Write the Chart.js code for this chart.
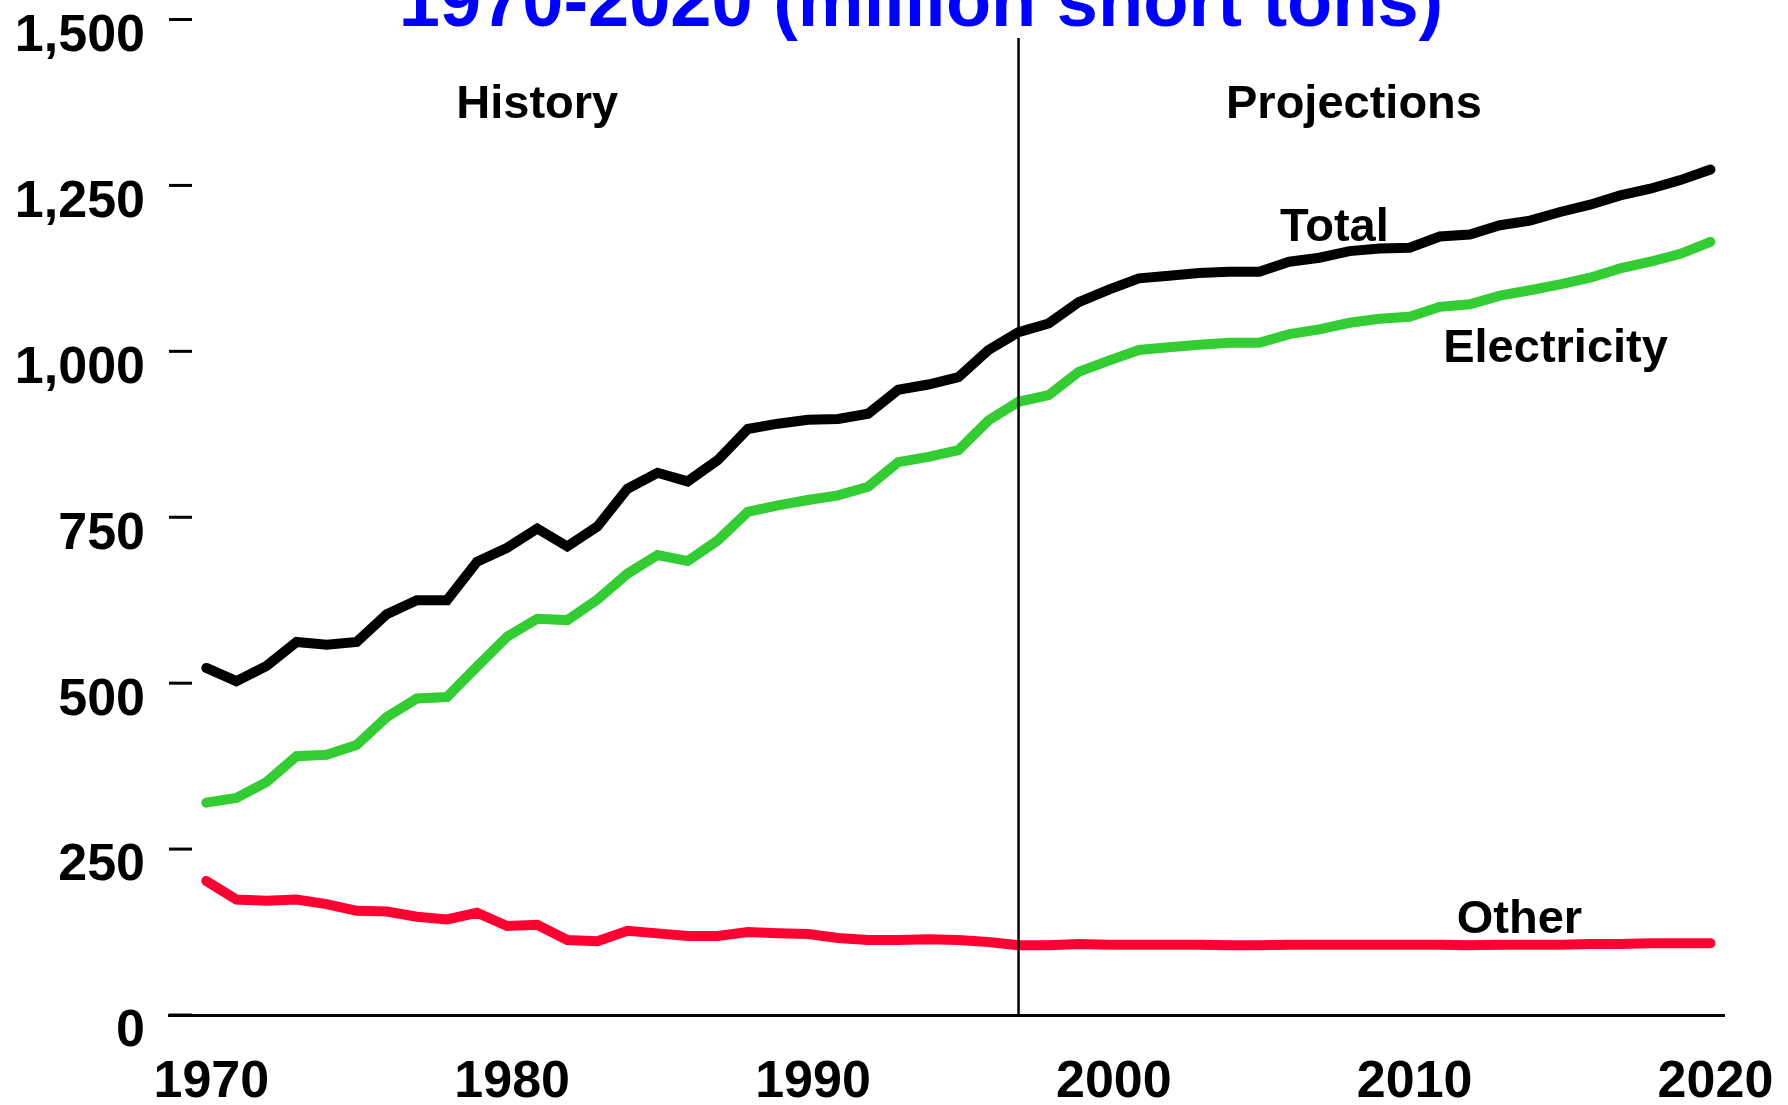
<!DOCTYPE html>
<html>
<head>
<meta charset="utf-8">
<script src="https://cdn.jsdelivr.net/npm/chart.js@4/dist/chart.umd.min.js"></script>
<style>
  html, body { margin: 0; padding: 0; background: #ffffff; }
  #wrap { width: 1788px; height: 1105px; position: relative; }
</style>
</head>
<body>
<div id="wrap"><canvas id="c" width="1788" height="1105"></canvas></div>
<script>
// ---------- DATA ----------
const years = [1970,1971,1972,1973,1974,1975,1976,1977,1978,1979,
               1980,1981,1982,1983,1984,1985,1986,1987,1988,1989,
               1990,1991,1992,1993,1994,1995,1996,1997,1998,1999,
               2000,2001,2002,2003,2004,2005,2006,2007,2008,2009,
               2010,2011,2012,2013,2014,2015,2016,2017,2018,2019,2020];
const totalValues = [523,503,526,562,558,562,604,625,625,683,
                     704,733,706,736,793,817,804,836,883,891,
                     897,898,906,942,950,961,1002,1029,1042,1074,
                     1093,1110,1114,1118,1120,1120,1135,1141,1151,1155,
                     1156,1173,1176,1190,1197,1210,1221,1235,1245,1258,1274];
const electricityValues = [320,327,351,390,392,407,449,477,479,525,
                           570,597,595,626,665,693,684,715,758,768,
                           776,783,796,833,841,851,896,924,934,969,
                           986,1002,1006,1010,1013,1013,1026,1033,1043,1049,
                           1052,1067,1071,1084,1092,1101,1111,1125,1135,1147,1165];
const otherValues = [202,174,172,174,167,157,156,148,144,154,
                     134,136,113,111,127,123,119,119,125,123,
                     122,116,113,113,114,113,110,105,105,107,
                     106,106,106,106,105,105,106,106,106,106,
                     106,106,105,106,106,106,107,107,108,108,108];
const seriesNames = ['Total', 'Electricity', 'Other'];
const xTickYears = [1970, 1980, 1990, 2000, 2010, 2020];
const yTickValues = [0, 250, 500, 750, 1000, 1250, 1500];
const periodLabels = ['History', 'Projections'];
const projectionStartYear = 1997;
const titleText = '1970-2020 (million short tons)';

// ---------- STYLE / LAYOUT ----------
const FONT = '"Liberation Sans", Arial, sans-serif';
const seriesColors = ['#000000', '#33CC33', '#FF0033'];
const lineWidth = 10;
const xRange = { min: 1968.76, max: 2020.45 };
const yRange = { min: 0, max: 1500 };
// annotation anchors in data units (x = year, y = value at text baseline)
const annotationSpots = [
  { text: periodLabels[0], x: 1981.0, y: 1352 },
  { text: periodLabels[1], x: 2008.15, y: 1352 },
  { text: seriesNames[0], x: 2007.5, y: 1167 },
  { text: seriesNames[1], x: 2014.85, y: 984 },
  { text: seriesNames[2], x: 2013.65, y: 124 }
];
const dividerTopValue = 1472;

function pairs(vals) { return years.map((yr, i) => ({ x: yr, y: vals[i] })); }

const overlayPlugin = {
  id: 'overlay',
  beforeDatasetsDraw(chart) {
    const ctx = chart.ctx, ys = chart.scales.y, area = chart.chartArea;
    ctx.save();
    ctx.strokeStyle = '#000';
    ctx.lineWidth = 3;
    ys.ticks.forEach(t => {
      const py = ys.getPixelForValue(t.value);
      ctx.beginPath();
      ctx.moveTo(area.left, py);
      ctx.lineTo(area.left + 23, py);
      ctx.stroke();
    });
    ctx.restore();
  },
  afterDatasetsDraw(chart) {
    const ctx = chart.ctx, xs = chart.scales.x, ys = chart.scales.y;
    ctx.save();
    // divider between history and projections
    const px = xs.getPixelForValue(projectionStartYear);
    ctx.strokeStyle = '#000';
    ctx.lineWidth = 2.5;
    ctx.beginPath();
    ctx.moveTo(px, ys.getPixelForValue(dividerTopValue));
    ctx.lineTo(px, ys.getPixelForValue(0));
    ctx.stroke();
    // annotations
    ctx.fillStyle = '#000';
    ctx.font = 'bold 47px ' + FONT;
    ctx.textAlign = 'center';
    ctx.textBaseline = 'alphabetic';
    annotationSpots.forEach(a => {
      ctx.fillText(a.text, xs.getPixelForValue(a.x), ys.getPixelForValue(a.y));
    });
    // title (second line, partly cut off at top)
    ctx.fillStyle = '#0000FF';
    ctx.font = 'bold 74px ' + FONT;
    ctx.fillText(titleText, 921, 26);
    ctx.restore();
  }
};

new Chart(document.getElementById('c'), {
  type: 'line',
  data: {
    datasets: [
      { label: seriesNames[0], data: pairs(totalValues), borderColor: seriesColors[0] },
      { label: seriesNames[1], data: pairs(electricityValues), borderColor: seriesColors[1] },
      { label: seriesNames[2], data: pairs(otherValues), borderColor: seriesColors[2] }
    ]
  },
  options: {
    responsive: false,
    animation: false,
    devicePixelRatio: 1,
    layout: { padding: { top: 19.5, right: 64, left: 0, bottom: 0 } },
    elements: {
      line: { borderWidth: lineWidth, tension: 0, borderCapStyle: 'round', borderJoinStyle: 'miter', fill: false },
      point: { radius: 0, hoverRadius: 0 }
    },
    plugins: { legend: { display: false }, tooltip: { enabled: false }, title: { display: false } },
    scales: {
      x: {
        type: 'linear',
        min: xRange.min, max: xRange.max,
        grid: { display: false, drawTicks: false },
        border: { display: true, color: '#000', width: 3 },
        afterBuildTicks(scale) { scale.ticks = xTickYears.map(v => ({ value: v })); },
        ticks: {
          color: '#000',
          font: { family: FONT, size: 52, weight: 'bold' },
          padding: 36,
          labelOffset: 5,
          maxRotation: 0,
          autoSkip: false,
          callback: v => String(v)
        },
        afterFit(scale) { scale.height = 90; scale.paddingLeft = 0; scale.paddingRight = 0; }
      },
      y: {
        min: yRange.min, max: yRange.max,
        grid: { display: false, drawTicks: false },
        border: { display: false },
        afterBuildTicks(scale) { scale.ticks = yTickValues.map(v => ({ value: v })); },
        ticks: {
          color: '#000',
          font: { family: FONT, size: 52, weight: 'bold' },
          padding: 24,
          labelOffset: 17,
          autoSkip: false,
          callback: v => v.toLocaleString('en-US')
        },
        afterFit(scale) { scale.width = 169; scale.paddingTop = 0; scale.paddingBottom = 0; }
      }
    }
  },
  plugins: [overlayPlugin]
});
</script>
</body>
</html>
